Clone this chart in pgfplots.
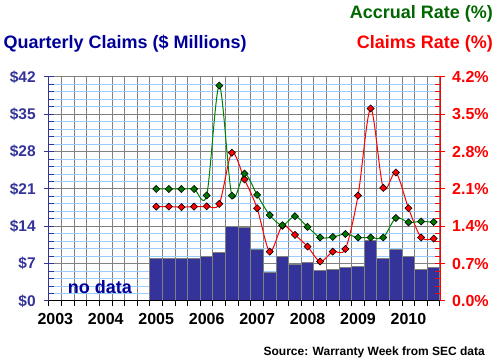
\documentclass[border=0pt]{standalone}
\usepackage{pgfplots}
\pgfplotsset{compat=1.18}
\usepackage{fontspec}
\setmainfont{Liberation Sans}
\definecolor{barblue}{HTML}{333399}
\definecolor{navy}{HTML}{000099}
\definecolor{agreen}{HTML}{007700}
\definecolor{agreenline}{HTML}{008000}
\definecolor{titlegreen}{HTML}{006600}
\definecolor{gridgray}{HTML}{808080}
\definecolor{lblue}{HTML}{99CCFF}
\begin{document}
\begin{tikzpicture}
\path[use as bounding box] (0,0) rectangle (496pt,363pt);
% Axis A: grid, bars, left axis
\begin{axis}[at={(49pt,62pt)}, anchor=south west, scale only axis,
  width=391pt, height=224pt,
  xmin=-0.5, xmax=30.5, ymin=0, ymax=42,
  axis x line*=bottom, axis y line*=left,
  x axis line style={-, black, line width=1pt},
  y axis line style={-, barblue, line width=1pt},
  xtick={-0.5,0.5,...,30.5}, xticklabels={},
  ytick={0,7,14,21,28,35,42},
  yticklabels={\$0,\$7,\$14,\$21,\$28,\$35,\$42},
  minor ytick={0,1.4,...,42},
  tick align=outside, major tick length=5pt, minor tick length=5pt,
  tick style={barblue, line width=1pt},
  minor tick style={xshift=5pt},
  xmajorgrids, ymajorgrids, yminorgrids,
  major grid style={gridgray, line width=1pt},
  minor grid style={lblue, line width=1pt},
  yticklabel style={barblue, font=\fontsize{15.5}{18}\selectfont\bfseries, xshift=-4.8pt},
  ybar, bar width=1, bar shift=0pt,
]
\addplot[fill=barblue, draw=gridgray, line width=1pt] coordinates {
(8,7.93) (9,7.93) (10,7.93) (11,7.93) (12,8.3) (13,9.1) (14,14.0) (15,13.75)
(16,9.7) (17,5.4) (18,8.3) (19,6.9) (20,7.25) (21,5.75) (22,5.93) (23,6.3)
(24,6.5) (25,11.4) (26,8.0) (27,9.7) (28,8.4) (29,5.93) (30,6.3)};
\end{axis}
% Axis B: rates, right axis
\begin{axis}[at={(49pt,62pt)}, anchor=south west, scale only axis,
  width=391pt, height=224pt,
  xmin=-0.5, xmax=30.5, ymin=0, ymax=4.2,
  axis x line=none, axis y line*=right,
  xtick=\empty,
  y axis line style={-, red, line width=1pt},
  ytick={0,0.7,1.4,2.1,2.8,3.5,4.2},
  yticklabels={0.0\%,0.7\%,1.4\%,2.1\%,2.8\%,3.5\%,4.2\%},
  minor ytick={0,0.14,...,4.2},
  tick align=outside, major tick length=5pt, minor tick length=5pt,
  tick style={red, line width=1pt},
  minor tick style={xshift=-5pt},
  yticklabel style={red, font=\fontsize{16}{19}\selectfont\bfseries, xshift=3.7pt},
]
\addplot[red, line width=1pt, smooth, mark=square*, mark size=2.5pt,
  mark options={rotate=45, fill=red, draw=black, line width=0.6pt, solid}] coordinates {
(8,1.77) (9,1.77) (10,1.76) (11,1.77) (12,1.775) (13,1.82) (14,2.78) (15,2.28)
(16,1.74) (17,0.925) (18,1.41) (19,1.24) (20,1.02) (21,0.74) (22,0.925) (23,0.975)
(24,1.975) (25,3.61) (26,2.12) (27,2.41) (28,1.74) (29,1.19) (30,1.17)};
\addplot[agreenline, line width=1pt, smooth, mark=square*, mark size=2.5pt,
  mark options={rotate=45, fill=agreen, draw=black, line width=0.6pt, solid}] coordinates {
(8,2.1) (9,2.1) (10,2.1) (11,2.1) (12,1.98) (13,4.04) (14,1.975) (15,2.39)
(16,1.99) (17,1.61) (18,1.42) (19,1.59) (20,1.39) (21,1.19) (22,1.2) (23,1.256)
(24,1.19) (25,1.19) (26,1.19) (27,1.556) (28,1.475) (29,1.49) (30,1.48)};
\end{axis}
% Axis C: x ticks and labels
\begin{axis}[at={(49pt,62pt)}, anchor=south west, scale only axis,
  width=391pt, height=224pt,
  xmin=-0.5, xmax=30.5, ymin=0, ymax=1,
  axis x line*=bottom, axis y line=none,
  x axis line style={-, black, line width=1pt},
  ytick=\empty,
  xtick={-0.5,0.5,...,30.5}, xticklabels={},
  extra x ticks={0,4,8,12,16,20,24,28},
  extra x tick labels={2003,2004,2005,2006,2007,2008,2009,2010},
  extra x tick style={grid=none, tick style={draw=none}},
  tick align=outside, major tick length=5pt,
  tick style={black, line width=1pt},
  xticklabel style={black, font=\fontsize{16}{19}\selectfont\bfseries, yshift=-3.7pt},
]
\end{axis}
\node[anchor=base east, inner sep=0pt, text=titlegreen, font=\fontsize{18}{21}\selectfont\bfseries] at (493pt,344.7pt) {Accrual Rate (\%)};
\node[anchor=base east, inner sep=0pt, text=red, font=\fontsize{18}{21}\selectfont\bfseries] at (493pt,314.7pt) {Claims Rate (\%)};
\node[anchor=base west, inner sep=0pt, text=navy, font=\fontsize{18}{21}\selectfont\bfseries] at (3.3pt,314.7pt) {Quarterly Claims (\$ Millions)};
\node[anchor=base, inner sep=0pt, text=navy, font=\fontsize{18}{21}\selectfont\bfseries] at (100pt,69.7pt) {no data};
\node[anchor=base east, inner sep=0pt, text=black, font=\fontsize{12}{14}\selectfont\bfseries] at (485pt,7.3pt) {Source: Warranty Week from SEC data};
\end{tikzpicture}
\end{document}
